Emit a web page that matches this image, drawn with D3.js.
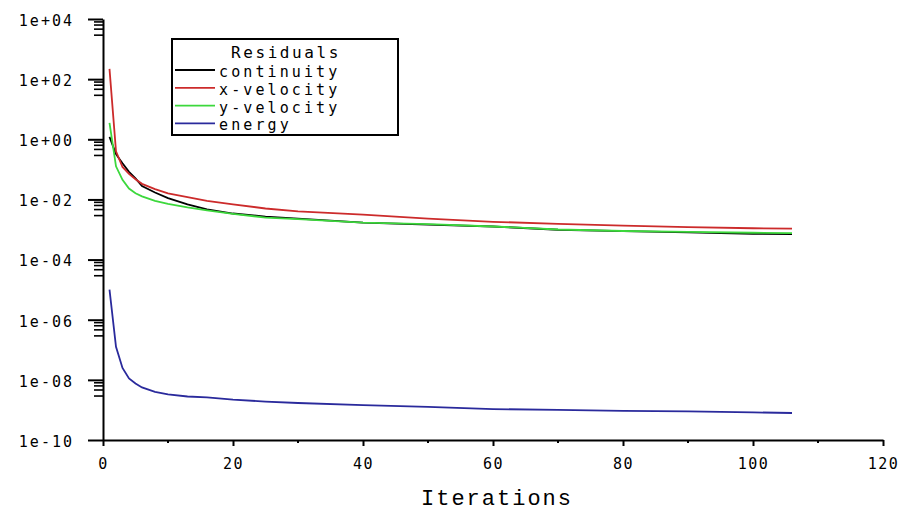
<!DOCTYPE html>
<html lang="en">
<head>
<meta charset="UTF-8">
<title>Residuals</title>
<script src="https://d3js.org/d3.v7.min.js"></script>
<style>
  body { margin: 0; background: #fff; }
  text { font-family: "DejaVu Sans Mono", monospace; fill: #000; }
</style>
</head>
<body>
<div class="canvas"></div>
<script>
// iterations
const iterations = [1, 2, 3, 4, 5, 6, 8, 10, 13, 16, 20, 25, 30, 40, 50, 60, 70, 80, 90, 100, 106]

const continuity = [1.2, 0.32, 0.16, 0.083, 0.05, 0.028, 0.017, 0.011, 0.0068, 0.0047, 0.0034,
  0.0027, 0.0023, 0.0017, 0.00145, 0.00126, 0.00098, 0.00088, 0.0008, 0.00072, 0.0007]
const xVelocity = [220, 0.4, 0.12, 0.071, 0.047, 0.033, 0.022, 0.016, 0.012, 0.0089, 0.0069,
  0.005, 0.004, 0.0031, 0.0023, 0.0018, 0.00155, 0.00135, 0.0012, 0.0011, 0.00107]
const yVelocity = [3.5, 0.126, 0.045, 0.023, 0.016, 0.0126, 0.0089, 0.0071, 0.0054, 0.0043, 0.0033,
  0.0025, 0.0022, 0.0017, 0.0015, 0.00126, 0.001, 0.00089, 0.00083, 0.00078, 0.00076]
const energy = [1e-5, 1.26e-7, 2.5e-8, 1.12e-8, 7.6e-9, 5.6e-9, 4e-9, 3.3e-9, 2.8e-9, 2.6e-9, 2.2e-9,
  1.9e-9, 1.7e-9, 1.45e-9, 1.26e-9, 1.07e-9, 1e-9, 9.3e-10, 8.9e-10, 8.3e-10, 7.9e-10]

const seriesNames = ['continuity', 'x-velocity', 'y-velocity', 'energy']
const seriesColors = ['#000000', '#cc2b2b', '#3cd83c', '#2a2a9c']

const xTicks = [0, 20, 40, 60, 80, 100, 120]
const xMinorTicks = [10, 30, 50, 70, 90, 110]
const yTicks = [1e4, 1e2, 1e0, 1e-2, 1e-4, 1e-6, 1e-8, 1e-10]
const yTickLabels = ['1e+04', '1e+02', '1e+00', '1e-02', '1e-04', '1e-06', '1e-08', '1e-10']
const yMinorFactors = [0.8, 0.63, 0.46, 0.29]

const width = 922
const height = 515
const [ml, mr, mt, mb] = [103, 883, 19, 440]

const svg = d3.select('.canvas').append('svg')
  .attr('width', width)
  .attr('height', height)

const x = d3.scaleLinear().domain([0, 120]).range([ml, mr])
const y = d3.scaleLog().domain([1e-10, 1e4]).range([mb, mt])

// x axis
const xAxis = d3.axisBottom(x).tickValues(xTicks).tickSize(6).tickSizeOuter(0).tickFormat(d => d).tickPadding(12)
const xg = svg.append('g').attr('transform', `translate(0, ${mb})`).call(xAxis)
xg.attr('font-family', null).attr('font-size', null)
xg.select('.domain').attr('stroke', '#000').attr('stroke-width', 2)
xg.selectAll('.tick line').attr('stroke-width', 2)
xg.selectAll('.tick text')
  .style('font-size', '15px')
  .style('letter-spacing', '1.5px')
xg.selectAll('.minor').data(xMinorTicks).enter().append('line')
  .attr('x1', d => x(d)).attr('x2', d => x(d))
  .attr('y1', 0).attr('y2', 3)
  .attr('stroke', '#000').attr('stroke-width', 2)

// y axis
const yAxis = d3.axisLeft(y).tickValues(yTicks).tickSize(15).tickSizeOuter(0)
  .tickFormat((d, i) => yTickLabels[i]).tickPadding(14)
const yg = svg.append('g').attr('transform', `translate(${ml}, 0)`).call(yAxis)
yg.attr('font-family', null).attr('font-size', null)
yg.select('.domain').attr('stroke', '#000').attr('stroke-width', 2)
yg.selectAll('.tick line').attr('stroke-width', 2)
yg.selectAll('.tick text')
  .style('font-size', '15px')
  .style('letter-spacing', '2px')
  .attr('dy', '0.42em')

const yMinor = []
yTicks.slice(0, -1).forEach(t => yMinorFactors.forEach(f => yMinor.push(t * f)))
yg.selectAll('.minor').data(yMinor).enter().append('line')
  .attr('x1', -9).attr('x2', 0)
  .attr('y1', d => y(d)).attr('y2', d => y(d))
  .attr('stroke', '#000').attr('stroke-width', 1.6)

svg.append('text')
  .attr('x', (ml + mr) / 2 + 4)
  .attr('y', 505)
  .attr('text-anchor', 'middle')
  .style('font-family', '"Liberation Mono", monospace')
  .style('font-size', '22px')
  .style('letter-spacing', '2px')
  .text('Iterations')

// lines
const allSeries = [continuity, xVelocity, yVelocity, energy]
const line = d3.line()
  .x((d, i) => x(iterations[i]))
  .y(d => y(d))

allSeries.forEach((s, k) => {
  svg.append('path')
    .attr('d', line(s))
    .attr('fill', 'none')
    .attr('stroke', seriesColors[k])
    .attr('stroke-width', 1.8)
})

// legend
const legend = svg.append('g').attr('transform', 'translate(172, 39)')
legend.append('rect')
  .attr('width', 226).attr('height', 96)
  .attr('fill', '#fff').attr('stroke', '#000').attr('stroke-width', 2)
legend.append('text')
  .attr('x', 114).attr('y', 19)
  .attr('text-anchor', 'middle')
  .style('font-size', '16px').style('letter-spacing', '2.6px')
  .text('Residuals')
seriesNames.forEach((name, k) => {
  const ly = 31 + k * 17.8
  legend.append('line')
    .attr('x1', 3).attr('x2', 43)
    .attr('y1', ly).attr('y2', ly)
    .attr('stroke', seriesColors[k]).attr('stroke-width', 1.8)
  legend.append('text')
    .attr('x', 47).attr('y', ly + 7)
    .style('font-size', '15px').style('letter-spacing', '3.1px')
    .text(name)
})
</script>
</body>
</html>
